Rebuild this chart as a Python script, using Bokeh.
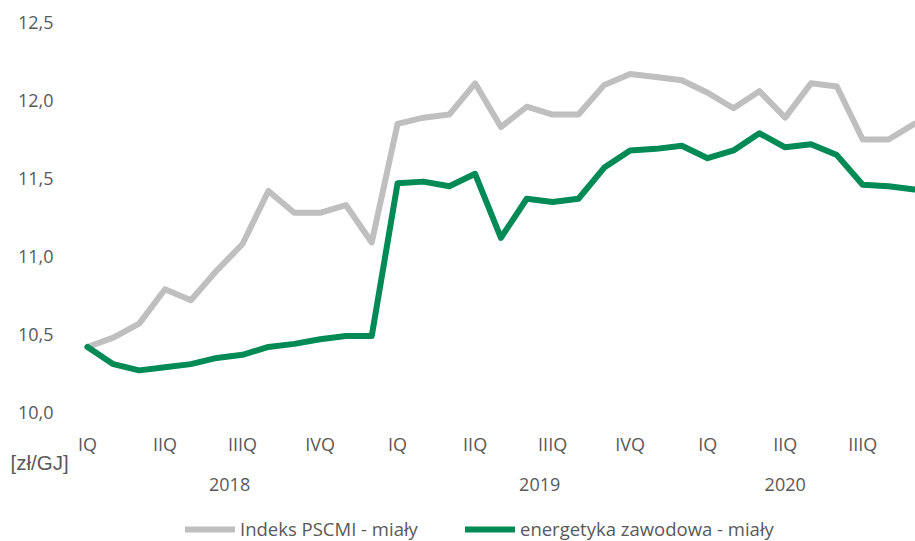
from bokeh.plotting import figure
from bokeh.models import Range1d, Legend, LegendItem
from bokeh.core.properties import value
from bokeh.embed import file_html
from bokeh.resources import INLINE

# monthly data Jan 2018 .. Sep 2020
pscmi = [10.42, 10.48, 10.57, 10.79, 10.72, 10.91, 11.08, 11.42, 11.28, 11.28, 11.33, 11.09,
         11.85, 11.89, 11.91, 12.11, 11.83, 11.96, 11.91, 11.91, 12.10, 12.17, 12.15, 12.13,
         12.05, 11.95, 12.06, 11.89, 12.11, 12.09, 11.75, 11.75, 11.85]
energetyka = [10.42, 10.31, 10.27, 10.29, 10.31, 10.35, 10.37, 10.42, 10.44, 10.47, 10.49, 10.49,
              11.47, 11.48, 11.45, 11.53, 11.12, 11.37, 11.35, 11.37, 11.57, 11.68, 11.69, 11.71,
              11.63, 11.68, 11.79, 11.70, 11.72, 11.65, 11.46, 11.45, 11.43]
quarter_labels = ["IQ", "IIQ", "IIIQ", "IVQ", "IQ", "IIQ", "IIIQ", "IVQ", "IQ", "IIQ", "IIIQ"]
quarter_pos = [0, 3, 6, 9, 12, 15, 18, 21, 24, 27, 30]
years = ["2018", "2019", "2020"]
year_pos = [5.5, 17.5, 27.0]
y_ticks = [10.0, 10.5, 11.0, 11.5, 12.0, 12.5]
y_labels = ["10,0", "10,5", "11,0", "11,5", "12,0", "12,5"]
unit_label = "[zł/GJ]"
series_names = ["Indeks PSCMI - miały", "energetyka zawodowa - miały"]

FONT = "Open Sans"
FS = "18px"
TXT = "#595959"
GRAY = "#BFBFBF"
GREEN = "#008A56"

W, H = 915, 541
# layout (pixels): first month at px 87, one month = 25.84 px; y 12.5 at px 22, 1 unit = 156 px
X0_PX, DX_PX = 87.0, 25.84
YTOP_PX, DY_PX = 22.0, 156.0
Y_MAX = 12.5

def xd(px):
    return (px - X0_PX) / DX_PX

def yd(py):
    return Y_MAX - (py - YTOP_PX) / DY_PX

x = list(range(len(pscmi)))

p = figure(width=W, height=H, output_backend="svg", toolbar_location=None,
           x_range=Range1d(xd(0), xd(W)), y_range=Range1d(yd(H), yd(0)),
           min_border=0, min_border_left=0, min_border_right=0,
           min_border_top=0, min_border_bottom=0)
p.outline_line_color = None
p.grid.visible = False
p.axis.visible = False
p.background_fill_color = "white"
p.border_fill_color = "white"

r1 = p.line(x, pscmi, line_color=GRAY, line_width=6, line_join="round", line_cap="round")
r2 = p.line(x, energetyka, line_color=GREEN, line_width=6, line_join="round", line_cap="round")

# y tick labels
p.text(x=[xd(53)] * len(y_ticks), y=y_ticks, text=y_labels, text_align="right",
       text_baseline="middle", text_font=value(FONT), text_font_size=FS, text_color=TXT)
# quarter labels
p.text(x=quarter_pos, y=[yd(443)] * len(quarter_pos), text=quarter_labels, text_align="center",
       text_baseline="middle", text_font=value(FONT), text_font_size=FS, text_color=TXT)
# year labels
p.text(x=year_pos, y=[yd(484)] * len(year_pos), text=years, text_align="center",
       text_baseline="middle", text_font=value(FONT), text_font_size=FS, text_color=TXT)
# unit label
p.text(x=[xd(10)], y=[yd(462)], text=[unit_label], text_align="left",
       text_baseline="middle", text_font=value("Liberation Sans"), text_font_size="20.5px",
       text_color=TXT)

for r, name, lx in [(r1, series_names[0], 185), (r2, series_names[1], 465)]:
    lg = Legend(items=[LegendItem(label=name, renderers=[r])],
                orientation="horizontal", location=(lx, 0),
                glyph_width=50, glyph_height=20, label_height=20, label_standoff=5,
                padding=0, margin=0, border_line_color=None, background_fill_alpha=0,
                label_text_font=FONT, label_text_font_size="18.5px", label_text_color=TXT,
                label_text_baseline="middle")
    p.add_layout(lg, "center")

open("out.html", "w").write(file_html(p, INLINE))
